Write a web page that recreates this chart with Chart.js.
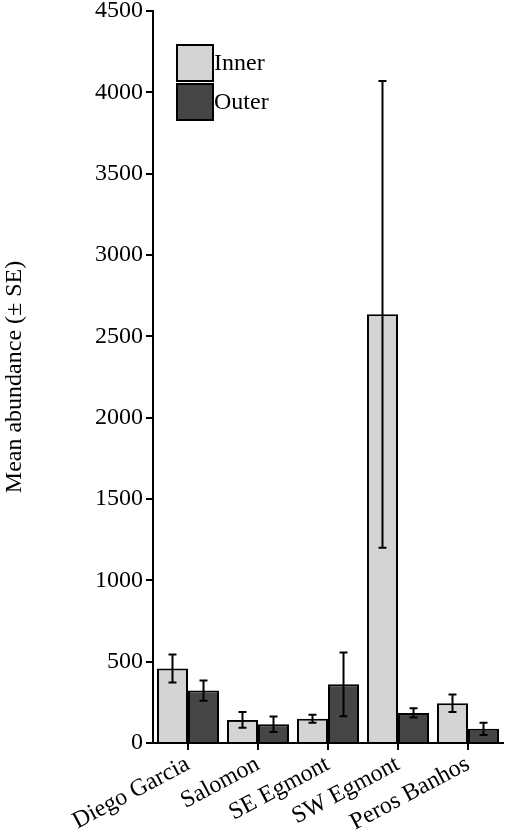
<!DOCTYPE html>
<html>
<head>
<meta charset="utf-8">
<script src="https://cdn.jsdelivr.net/npm/chart.js@4/dist/chart.umd.min.js"></script>
<style>
  html, body { margin: 0; padding: 0; background: #fff; }
  #wrap { width: 510px; height: 840px; }
  #probe { position: absolute; left: -999px; font-family: "Liberation Serif"; }
</style>
</head>
<body>
<span id="probe">Mean abundance</span>
<div id="wrap"><canvas id="chart"></canvas></div>
<script>
const categories = ["Diego Garcia", "Salomon", "SE Egmont", "SW Egmont", "Peros Banhos"];
const innerMean = [458, 142, 149, 2635, 244];
const innerSE = [86, 48, 24, 1435, 54];
const outerMean = [322, 115, 361, 185, 87];
const outerSE = [62, 48, 196, 28, 38];
const yTicks = [0, 500, 1000, 1500, 2000, 2500, 3000, 3500, 4000, 4500];

const serif = "'Liberation Serif', 'Times New Roman', 'DejaVu Serif', serif";
const errors = [innerSE, outerSE];

// error bars, drawn through the chart's own scales
const errorBars = {
  id: "errorBars",
  afterDatasetsDraw(chart) {
    const ctx = chart.ctx;
    const y = chart.scales.y;
    ctx.save();
    ctx.strokeStyle = "#000";
    ctx.lineWidth = 2;
    chart.data.datasets.forEach((ds, i) => {
      chart.getDatasetMeta(i).data.forEach((bar, j) => {
        const v = ds.data[j];
        const top = y.getPixelForValue(v + errors[i][j]);
        const bot = y.getPixelForValue(v - errors[i][j]);
        const x = bar.x;
        ctx.beginPath();
        ctx.moveTo(x, top); ctx.lineTo(x, bot);
        ctx.moveTo(x - 4, top); ctx.lineTo(x + 4, top);
        ctx.moveTo(x - 4, bot); ctx.lineTo(x + 4, bot);
        ctx.stroke();
      });
    });
    ctx.restore();
  }
};

// legend boxes inside the plot, upper left
const innerLegend = {
  id: "innerLegend",
  afterDraw(chart) {
    const ctx = chart.ctx;
    const x0 = chart.chartArea.left + 24;
    let y0 = 45;
    ctx.save();
    ctx.font = "24px " + serif;
    ctx.textBaseline = "middle";
    chart.data.datasets.forEach(ds => {
      ctx.fillStyle = ds.backgroundColor;
      ctx.fillRect(x0, y0, 36, 36);
      ctx.strokeStyle = "#000";
      ctx.lineWidth = 2;
      ctx.strokeRect(x0, y0, 36, 36);
      ctx.fillStyle = "#000";
      ctx.fillText(ds.label, x0 + 37, y0 + 19);
      y0 += 39;
    });
    ctx.restore();
  }
};

function build() {
  new Chart(document.getElementById("chart"), {
    type: "bar",
    data: {
      labels: categories,
      datasets: [
        { label: "Inner", data: innerMean, backgroundColor: "#d4d4d4", borderColor: "#000", borderWidth: 2 },
        { label: "Outer", data: outerMean, backgroundColor: "#454545", borderColor: "#000", borderWidth: 2 }
      ]
    },
    options: {
      responsive: true,
      maintainAspectRatio: false,
      animation: false,
      layout: { padding: { top: 0, right: 7, left: 0, bottom: 0 } },
      datasets: { bar: { categoryPercentage: 0.886, barPercentage: 1 } },
      plugins: { legend: { display: false }, tooltip: { enabled: false } },
      scales: {
        x: {
          grid: { display: true, offset: false, drawOnChartArea: false, drawTicks: true, tickLength: 7, color: "#000", lineWidth: 2 },
          border: { color: "#000", width: 2 },
          ticks: { color: "#000", font: { family: serif, size: 24 }, minRotation: 28, maxRotation: 28, padding: 0 },
          afterFit(scale) { scale.height = 97; }
        },
        y: {
          min: 0,
          max: 4500,
          afterBuildTicks(scale) { scale.ticks = yTicks.map(v => ({ value: v })); },
          grid: { display: true, drawOnChartArea: false, tickLength: 7, color: "#000", lineWidth: 2 },
          border: { color: "#000", width: 2 },
          ticks: { color: "#000", font: { family: serif, size: 24 }, padding: 3, callback: v => String(v) },
          title: { display: true, text: "Mean abundance (± SE)", color: "#000", font: { family: serif, size: 24 }, padding: 0 },
          afterFit(scale) { scale.width = 153; scale.paddingTop = 11; }
        }
      }
    },
    plugins: [errorBars, innerLegend]
  });
}

document.fonts.load("24px 'Liberation Serif'").then(build, build);
</script>
</body>
</html>
